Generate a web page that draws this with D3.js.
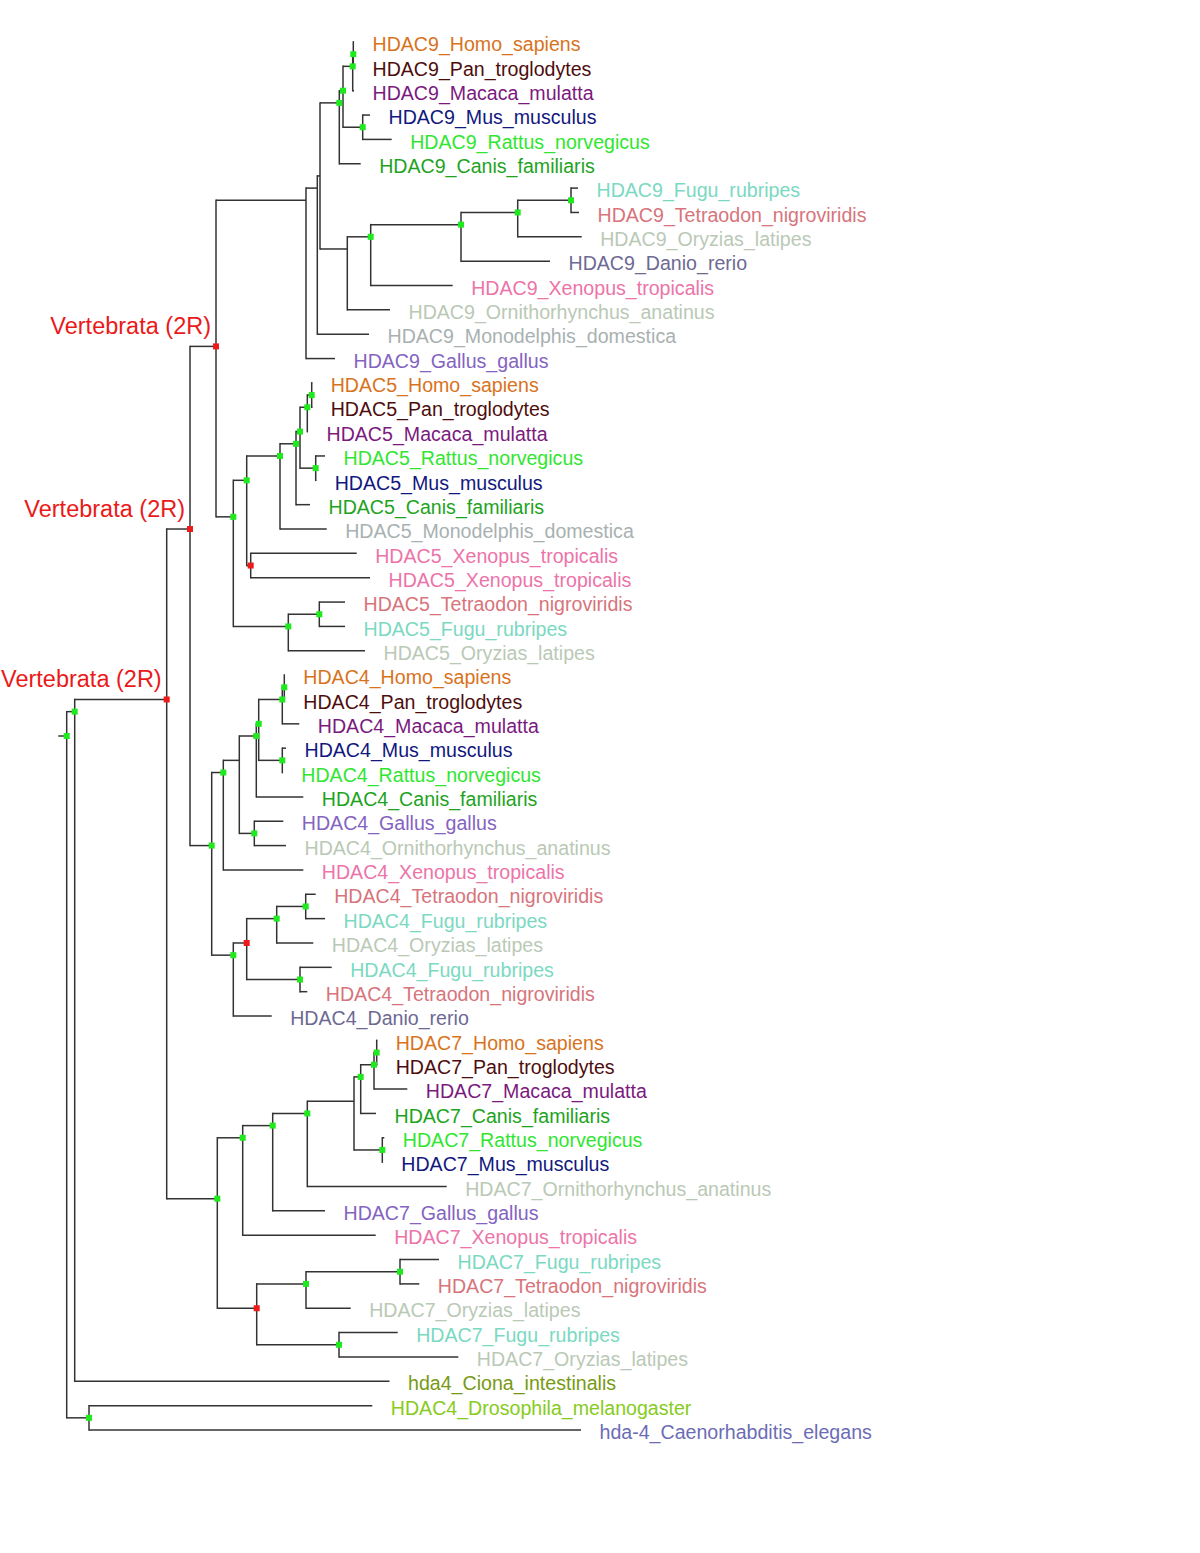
<!DOCTYPE html>
<html><head><meta charset="utf-8">
<script src="https://cdn.jsdelivr.net/npm/d3@7"></script>
<style>body{margin:0;background:#fff}svg{display:block}</style>
</head><body>
<svg id="chart" width="1200" height="1553"></svg>
<script>
// ---------------- DATA ----------------
const leafNames = [
  "HDAC9_Homo_sapiens","HDAC9_Pan_troglodytes","HDAC9_Macaca_mulatta","HDAC9_Mus_musculus",
  "HDAC9_Rattus_norvegicus","HDAC9_Canis_familiaris","HDAC9_Fugu_rubripes","HDAC9_Tetraodon_nigroviridis",
  "HDAC9_Oryzias_latipes","HDAC9_Danio_rerio","HDAC9_Xenopus_tropicalis","HDAC9_Ornithorhynchus_anatinus",
  "HDAC9_Monodelphis_domestica","HDAC9_Gallus_gallus",
  "HDAC5_Homo_sapiens","HDAC5_Pan_troglodytes","HDAC5_Macaca_mulatta","HDAC5_Rattus_norvegicus",
  "HDAC5_Mus_musculus","HDAC5_Canis_familiaris","HDAC5_Monodelphis_domestica","HDAC5_Xenopus_tropicalis",
  "HDAC5_Xenopus_tropicalis","HDAC5_Tetraodon_nigroviridis","HDAC5_Fugu_rubripes","HDAC5_Oryzias_latipes",
  "HDAC4_Homo_sapiens","HDAC4_Pan_troglodytes","HDAC4_Macaca_mulatta","HDAC4_Mus_musculus",
  "HDAC4_Rattus_norvegicus","HDAC4_Canis_familiaris","HDAC4_Gallus_gallus","HDAC4_Ornithorhynchus_anatinus",
  "HDAC4_Xenopus_tropicalis","HDAC4_Tetraodon_nigroviridis","HDAC4_Fugu_rubripes","HDAC4_Oryzias_latipes",
  "HDAC4_Fugu_rubripes","HDAC4_Tetraodon_nigroviridis","HDAC4_Danio_rerio",
  "HDAC7_Homo_sapiens","HDAC7_Pan_troglodytes","HDAC7_Macaca_mulatta","HDAC7_Canis_familiaris",
  "HDAC7_Rattus_norvegicus","HDAC7_Mus_musculus","HDAC7_Ornithorhynchus_anatinus","HDAC7_Gallus_gallus",
  "HDAC7_Xenopus_tropicalis","HDAC7_Fugu_rubripes","HDAC7_Tetraodon_nigroviridis","HDAC7_Oryzias_latipes",
  "HDAC7_Fugu_rubripes","HDAC7_Oryzias_latipes",
  "hda4_Ciona_intestinalis","HDAC4_Drosophila_melanogaster","hda-4_Caenorhabditis_elegans"
];
const leafParents = [
  "HP9","HP9","P9","Rod9","Rod9","M9","F9e","F9e","F9d","F9c","F9b","F9a","H9b","H9a",
  "HP5","HP5","P5","Rod5","Rod5","mam5","N5b","Xen5","Xen5","TF5","TF5","fish5",
  "HP4","HP4","P4","Rod4","Rod4","N4c","GO4","GO4","N4a","TF4","TF4","N4e","FT4b","FT4b","fish4",
  "HP7","HP7","P7","N7e","Rod7","Rod7","N7c","N7b","N7a","FT7","FT7","N7f","N7g","N7g",
  "A","DC","DC"
];
const leafBranchLengths = [
  0.0014,0.0014,0.0026,0.0146,0.058,0.0428,0.014,0.016,0.128,0.178,0.164,0.0854,0.1034,0.058,
  0.001,0.001,0.0014,0.0186,0.001,0.028,0.0934,0.212,0.2386,0.0514,0.0514,0.1534,
  0.001,0.001,0.034,0.0074,0.001,0.094,0.058,0.0634,0.16,0.02,0.0386,0.0732,0.0634,0.0146,0.0768,
  0.001,0.001,0.0666,0.0306,0.004,0.001,0.2788,0.1046,0.266,0.078,0.0386,0.0894,0.1174,0.2386,
  0.6296,0.5666,0.984
];
const internalIds = [
  "root","A","V1","V2","V3",
  "H9a","H9b","H9c","M9","N9a","P9","HP9","Rod9","F9a","F9b","F9c","F9d","F9e",
  "root5","N5a","N5b","mam5","N5c","P5","HP5","Rod5","Xen5","fish5","TF5",
  "root4","N4a","N4b","N4c","N4d","P4","HP4","Rod4","GO4","fish4","red4","N4e","TF4","FT4b",
  "root7","N7a","N7b","N7c","N7d","N7e","P7","HP7","Rod7","red7","N7f","FT7","N7g",
  "DC"
];
const internalParents = [
  "","root","A","V1","V2",
  "V3","H9a","H9b","H9c","M9","N9a","P9","N9a","H9c","F9a","F9b","F9c","F9d",
  "V3","root5","N5a","N5b","mam5","N5c","P5","N5c","N5a","root5","fish5",
  "V2","root4","N4a","N4b","N4c","N4d","P4","N4d","N4b","root4","fish4","red4","N4e","red4",
  "V1","root7","N7a","N7b","N7c","N7d","N7e","P7","N7d","root7","red7","N7f","red7",
  "root"
];
const internalBranchLengths = [
  0.0168,0.016,0.184,0.0466,0.052,
  0.18,0.0226,0.0054,0.0386,0.0074,0.0194,0.0012,0.0394,0.0546,0.0468,0.1806,0.1134,0.1066,
  0.0346,0.0268,0.0666,0.032,0.008,0.0146,0.0088,0.0314,0.008,0.11,0.062,
  0.0434,0.0232,0.032,0.034,0.0048,0.0472,0.004,0.0472,0.03,0.0432,0.0268,0.06,0.058,0.1066,
  0.1012,0.0508,0.06,0.0692,0.0934,0.0134,0.0266,0.0054,0.0566,0.0788,0.0986,0.188,0.1646,
  0.0446
];
const duplicationNodes = ["V1","V2","V3","Xen5","red4","red7"];
const unmarkedNodes = ["H9a","H9b","H9c","F9a","N4b","N7d"];
const cladeLabelNodes = ["V3","V2","V1"];
const cladeLabelTexts = ["Vertebrata (2R)","Vertebrata (2R)","Vertebrata (2R)"];

// styles
const speciesColors = {
  "Homo_sapiens":"#d8731d","Pan_troglodytes":"#4e0d0d","Macaca_mulatta":"#7b1a7e",
  "Mus_musculus":"#12187e","Rattus_norvegicus":"#30e630","Canis_familiaris":"#1ea31e",
  "Fugu_rubripes":"#7bd9c2","Tetraodon_nigroviridis":"#d7747c","Oryzias_latipes":"#bac9b6",
  "Danio_rerio":"#6d6993","Xenopus_tropicalis":"#ec74a9","Ornithorhynchus_anatinus":"#b9c9b5",
  "Monodelphis_domestica":"#a8b1b1","Gallus_gallus":"#8463c1","Ciona_intestinalis":"#779a12",
  "Drosophila_melanogaster":"#86cc20","Caenorhabditis_elegans":"#6c6cb6"
};

// ---------------- BUILD ----------------
const rows = internalIds.map((id, i) => ({id, parent: internalParents[i], length: internalBranchLengths[i], name: null}))
  .concat(leafNames.map((n, i) => ({id: "leaf" + i, parent: leafParents[i], length: leafBranchLengths[i], name: n, index: i})));

const root = d3.stratify().id(d => d.id).parentId(d => d.parent || null)(rows);
root.eachBefore(n => { n.dist = (n.parent ? n.parent.dist : 0) + n.data.length; });

const x = d3.scaleLinear().domain([0, 1]).range([58.3, 558.3]);
const y = d3.scaleLinear().domain([0, leafNames.length - 1]).range([42, 1430]);

root.eachAfter(n => {
  if (!n.children) n.yPos = y(n.data.index);
  else n.yPos = d3.mean(n.leaves(), l => y(l.data.index));
});

const svg = d3.select("#chart");
svg.append("rect").attr("width", 1200).attr("height", 1553).attr("fill", "#fff");

const lineColor = "#333";
const g = svg.append("g");

// root stub
g.append("line")
  .attr("x1", x(0)).attr("x2", x(root.dist))
  .attr("y1", root.yPos).attr("y2", root.yPos)
  .attr("stroke", lineColor).attr("stroke-width", 1.5);

// horizontal branches
g.selectAll("line.h").data(root.descendants().filter(n => n.parent)).join("line")
  .attr("class", "h")
  .attr("x1", d => x(d.parent.dist)).attr("x2", d => x(d.dist))
  .attr("y1", d => d.yPos).attr("y2", d => d.yPos)
  .attr("stroke", lineColor).attr("stroke-width", 1.5);

// vertical connectors
g.selectAll("line.v").data(root.descendants().filter(n => n.children)).join("line")
  .attr("class", "v")
  .attr("x1", d => x(d.dist)).attr("x2", d => x(d.dist))
  .attr("y1", d => d3.min(d.children, c => c.yPos)).attr("y2", d => d3.max(d.children, c => c.yPos))
  .attr("stroke", lineColor).attr("stroke-width", 1.5).attr("stroke-linecap", "square");

// node markers
const ms = 6;
g.selectAll("rect.m").data(root.descendants().filter(n => n.children && !unmarkedNodes.includes(n.data.id))).join("rect")
  .attr("class", "m")
  .attr("x", d => x(d.dist) - ms / 2).attr("y", d => d.yPos - ms / 2)
  .attr("width", ms).attr("height", ms)
  .attr("fill", d => duplicationNodes.includes(d.data.id) ? "#ee1a1a" : "#1eea1e");

// leaf labels
g.selectAll("text.leaf").data(root.leaves()).join("text")
  .attr("class", "leaf")
  .attr("x", d => x(d.dist) + 18.5)
  .attr("y", d => d.yPos + 9.2)
  .attr("font-family", "'Liberation Sans', Arial, Helvetica, sans-serif")
  .attr("font-size", 19.6)
  .attr("fill", d => speciesColors[d.data.name.split("_").slice(1).join("_")] || "#000")
  .text(d => d.data.name);

// clade (duplication) labels
const nodeById = new Map(root.descendants().map(n => [n.data.id, n]));
g.selectAll("text.clade").data(cladeLabelNodes.map((id, i) => ({node: nodeById.get(id), text: cladeLabelTexts[i]}))).join("text")
  .attr("class", "clade")
  .attr("x", d => x(d.node.dist) - 5)
  .attr("y", d => d.node.yPos - 12.5)
  .attr("text-anchor", "end")
  .attr("font-family", "'Liberation Sans', Arial, Helvetica, sans-serif")
  .attr("font-size", 23.5)
  .attr("fill", "#ea1a1a")
  .text(d => d.text);
</script>
</body></html>
